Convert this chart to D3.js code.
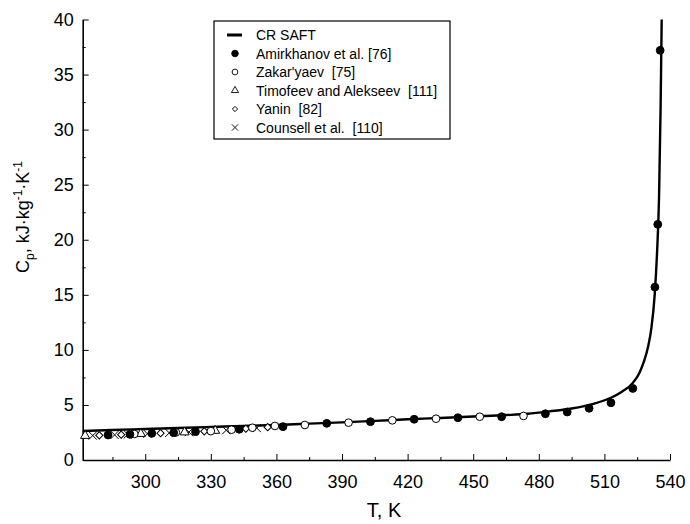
<!DOCTYPE html>
<html>
<head>
<meta charset="utf-8">
<script src="https://cdn.jsdelivr.net/npm/d3@7"></script>
<style>
  body { margin: 0; background: #fff; }
  text { font-family: "Liberation Sans", Arial, sans-serif; fill: #000; }
</style>
</head>
<body>
<div></div>
<script>
// CR SAFT curve
const curveT  = [271.4, 285, 300, 315, 330, 345, 360, 375, 390, 405, 420, 435, 450, 465, 475, 485, 495, 505, 513, 518, 523, 526, 528, 530, 531.5, 533, 534, 535, 535.7, 536.2];
const curveCp = [2.64, 2.72, 2.82, 2.91, 3.0, 3.1, 3.18, 3.3, 3.42, 3.55, 3.7, 3.82, 3.95, 4.08, 4.2, 4.42, 4.68, 5.1, 5.65, 6.2, 7.0, 7.9, 8.9, 10.3, 12.0, 15.0, 18.5, 24, 32, 40];

// experimental series
const amirT  = [283, 293, 303, 313, 323, 343, 363, 383, 403, 423, 443, 463, 483, 493, 503, 513, 523, 533.1, 534.4, 535.5];
const amirCp = [2.27, 2.33, 2.42, 2.48, 2.57, 2.79, 3.03, 3.33, 3.48, 3.70, 3.84, 3.93, 4.20, 4.36, 4.70, 5.20, 6.50, 15.7, 21.4, 37.2];
const zakT   = [295, 314, 330, 339.5, 349, 359.3, 373, 393, 413, 433, 453, 473];
const zakCp  = [2.36, 2.5, 2.62, 2.75, 2.93, 3.09, 3.18, 3.39, 3.6, 3.75, 3.93, 4.0];
const timT   = [272.5, 298, 318, 332];
const timCp  = [2.2, 2.38, 2.52, 2.66];
const yanT   = [279, 289, 307, 327, 346, 356];
const yanCp  = [2.24, 2.3, 2.44, 2.6, 2.84, 2.98];
const couT   = [276, 286, 292, 301, 311, 320, 337, 351];
const couCp  = [2.22, 2.28, 2.32, 2.38, 2.46, 2.53, 2.7, 2.9];

const xMajor = [300, 330, 360, 390, 420, 450, 480, 510, 540];
const xMinor = [285, 315, 345, 375, 405, 435, 465, 495, 525];
const yMajor = [0, 5, 10, 15, 20, 25, 30, 35, 40];
const yMinor = [2.5, 7.5, 12.5, 17.5, 22.5, 27.5, 32.5, 37.5];

const legendLabels = ["CR SAFT", "Amirkhanov et al. [76]", "Zakar'yaev  [75]", "Timofeev and Alekseev  [111]", "Yanin  [82]", "Counsell et al.  [110]"];

const width = 690, height = 524;
const x = d3.scaleLinear().domain([271.4, 540]).range([82.7, 670]);
const y = d3.scaleLinear().domain([0, 40]).range([460, 19.5]);

const svg = d3.select('div').append('svg').attr('width', width).attr('height', height);

// axes
const xAxis = svg.append('g').attr('transform', `translate(0,${y(0)})`)
    .call(d3.axisBottom(x).tickValues(xMajor).tickSizeInner(-6).tickSizeOuter(0).tickPadding(15));
svg.append('g').attr('transform', `translate(0,${y(0)})`)
    .call(d3.axisBottom(x).tickValues(xMinor).tickSizeInner(-3).tickSizeOuter(0).tickFormat(''))
    .select('.domain').remove();
const yAxis = svg.append('g').attr('transform', `translate(${x(271.4)},0)`)
    .call(d3.axisLeft(y).tickValues(yMajor).tickSizeInner(-6).tickSizeOuter(0).tickPadding(9));
svg.append('g').attr('transform', `translate(${x(271.4)},0)`)
    .call(d3.axisLeft(y).tickValues(yMinor).tickSizeInner(-3).tickSizeOuter(0).tickFormat(''))
    .select('.domain').remove();
svg.selectAll('.domain').attr('stroke-width', 1.6);
svg.selectAll('.tick line').attr('stroke-width', 1);
xAxis.selectAll('text').attr('font-size', 18).attr('font-family', '"Liberation Sans", Arial, sans-serif');
yAxis.selectAll('text').attr('font-size', 18).attr('font-family', '"Liberation Sans", Arial, sans-serif');

// axis titles
svg.append('text').attr('x', 384).attr('y', 517).attr('text-anchor', 'middle')
    .attr('font-size', 20).text('T, K');
const yl = svg.append('text').attr('transform', 'translate(29,217) rotate(-90)')
    .attr('text-anchor', 'middle').attr('font-size', 18);
yl.append('tspan').text('C');
yl.append('tspan').attr('font-size', 12).attr('dy', 5).text('p');
yl.append('tspan').attr('dy', -5).text(', kJ·kg');
yl.append('tspan').attr('font-size', 12).attr('dy', -7).text('-1');
yl.append('tspan').attr('dy', 7).text('·K');
yl.append('tspan').attr('font-size', 12).attr('dy', -7).text('-1');

// curve
const curveData = curveT.map((t, i) => [t, curveCp[i]]);
svg.append('path').datum(curveData)
    .attr('fill', 'none').attr('stroke', '#000').attr('stroke-width', 2.4)
    .attr('d', d3.line().x(d => x(d[0])).y(d => y(d[1])).curve(d3.curveMonotoneX));

// markers
const zip = (a, b) => a.map((t, i) => [t, b[i]]);
const drawSym = (data, type, size, fill, rot = 0) => {
    svg.append('g').selectAll('path').data(data).enter().append('path')
        .attr('transform', d => `translate(${x(d[0])},${y(d[1])}) rotate(${rot})`)
        .attr('d', d3.symbol().type(type).size(size))
        .attr('fill', fill).attr('stroke', '#000').attr('stroke-width', 1);
};
drawSym(zip(couT, couCp), d3.symbolX, 45, 'none');
drawSym(zip(timT, timCp), d3.symbolTriangle, 36, '#fff');
drawSym(zip(yanT, yanCp), d3.symbolSquare, 26, '#fff', 45);
drawSym(zip(zakT, zakCp), d3.symbolCircle, 46, '#fff');
drawSym(zip(amirT, amirCp), d3.symbolCircle, 48, '#000');

// legend
const lg = svg.append('g');
lg.append('rect').attr('x', 214).attr('y', 21).attr('width', 236).attr('height', 118)
    .attr('fill', '#fff').attr('stroke', '#000').attr('stroke-width', 1.2);
const legendSym = [null, [d3.symbolCircle, '#000', 34, 0], [d3.symbolCircle, '#fff', 26, 0], [d3.symbolTriangle, '#fff', 22, 0], [d3.symbolSquare, '#fff', 14, 45], [d3.symbolX, 'none', 28, 0]];
legendLabels.forEach((lab, i) => {
    const ry = 35 + i * 18.5;
    if (i === 0) {
        lg.append('line').attr('x1', 227).attr('x2', 242).attr('y1', ry).attr('y2', ry)
            .attr('stroke', '#000').attr('stroke-width', 3);
    } else {
        const [type, fill, size, rot] = legendSym[i];
        lg.append('path').attr('transform', `translate(235,${ry}) rotate(${rot})`)
            .attr('d', d3.symbol().type(type).size(size))
            .attr('fill', fill).attr('stroke', '#000').attr('stroke-width', 0.9);
    }
    lg.append('text').attr('x', 256).attr('y', ry).attr('dy', '0.36em')
        .attr('font-size', 14).style('white-space', 'pre').text(lab);
});
</script>
</body>
</html>
